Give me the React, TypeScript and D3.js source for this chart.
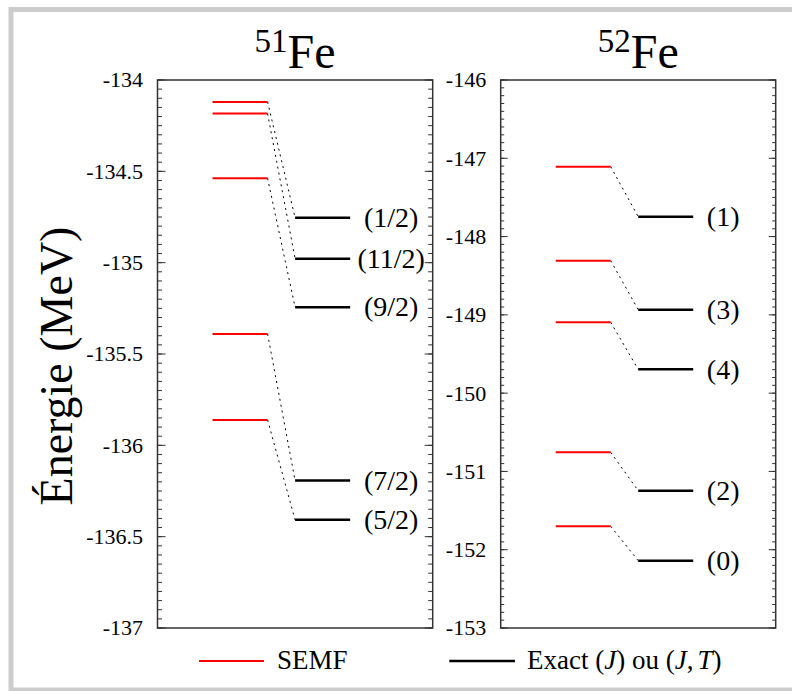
import React from "react";
import * as d3 from "d3";

const fe51Semf = [-134.12, -134.184, -134.538, -135.39, -135.861];
const fe51Exact = [-134.754, -134.978, -135.244, -136.193, -136.408];
const fe51Labels = ["(1/2)", "(11/2)", "(9/2)", "(7/2)", "(5/2)"];
const fe51Ticks = [-134, -134.5, -135, -135.5, -136, -136.5, -137];

const fe52Semf = [-147.107, -148.308, -149.095, -150.756, -151.701];
const fe52Exact = [-147.746, -148.934, -149.696, -151.246, -152.14];
const fe52Labels = ["(1)", "(3)", "(4)", "(2)", "(0)"];
const fe52Ticks = [-146, -147, -148, -149, -150, -151, -152, -153];

const SERIF = "'Liberation Serif'";
const fs = (size: number, extra: React.CSSProperties = {}): React.CSSProperties => ({
  fontFamily: SERIF,
  fontSize: size + "px",
  ...extra,
});

type PanelProps = {
  left: number;
  right: number;
  top: number;
  bottom: number;
  domain: [number, number];
  ticks: number[];
  minorStep: number;
  semf: number[];
  exact: number[];
  labels: string[];
  labelOffset: number;
  mass: string;
  majorLen: number;
  minorLen: number;
};

function Panel(p: PanelProps) {
  const y = d3.scaleLinear().domain(p.domain).range([p.bottom, p.top]);
  const x = d3.scaleLinear().domain([0, 1]).range([p.left, p.right]);
  const nMinor = Math.round((p.domain[1] - p.domain[0]) / p.minorStep);
  const minor = d3.range(nMinor + 1).map((i) => p.domain[0] + i * p.minorStep);
  const fmt = (v: number) => String(v);
  const cx = (p.left + p.right) / 2;
  return (
    <g>
      <text x={cx} y={68} textAnchor="middle" style={fs(47)} fill="#000">
        <tspan style={fs(33)} dy={-16}>{p.mass}</tspan>
        <tspan style={fs(48)} dy={16}>Fe</tspan>
      </text>
      {minor.map((v, i) => (
        <g key={"m" + i}>
          <line x1={p.left} x2={p.left + p.minorLen} y1={y(v)} y2={y(v)} stroke="#333" strokeWidth={1} />
          <line x1={p.right} x2={p.right - p.minorLen} y1={y(v)} y2={y(v)} stroke="#333" strokeWidth={1} />
        </g>
      ))}
      {p.ticks.map((v, i) => (
        <g key={"t" + i}>
          <line x1={p.left} x2={p.left + p.majorLen} y1={y(v)} y2={y(v)} stroke="#333" strokeWidth={1} />
          <line x1={p.right} x2={p.right - p.majorLen} y1={y(v)} y2={y(v)} stroke="#333" strokeWidth={1} />
          <text x={p.left - 14.5} y={y(v)} dy="0.34em" textAnchor="end" style={fs(22)} fill="#000">
            {fmt(v)}
          </text>
        </g>
      ))}
      <rect x={p.left} y={p.top} width={p.right - p.left} height={p.bottom - p.top} fill="none" stroke="#333" strokeWidth={1.5} />
      {p.semf.map((v, i) => (
        <line key={"c" + i} x1={x(0.4)} y1={y(v)} x2={x(0.5)} y2={y(p.exact[i])} stroke="#000" strokeWidth={1} strokeDasharray="2,4" />
      ))}
      {p.semf.map((v, i) => (
        <line key={"r" + i} x1={x(0.2)} x2={x(0.4)} y1={y(v)} y2={y(v)} stroke="#ff0000" strokeWidth={2} />
      ))}
      {p.exact.map((v, i) => (
        <g key={"e" + i}>
          <line x1={x(0.5)} x2={x(0.7)} y1={y(v)} y2={y(v)} stroke="#000" strokeWidth={2.5} />
          <text x={x(0.7) + p.labelOffset} y={y(v)} dy="0.33em" textAnchor="middle" style={fs(28)} fill="#000">
            {p.labels[i]}
          </text>
        </g>
      ))}
    </g>
  );
}

export default function App() {
  const W = 792;
  const H = 691;
  return (
    <svg width={W} height={H} style={{ position: "absolute", left: 0, top: 0, background: "#fff" }}>
      <rect x={0} y={0} width={W} height={H} fill="#fff" />
      <rect x={11} y={9.5} width={800} height={680.5} fill="none" stroke="#cccccc" strokeWidth={5} />
      <text transform="translate(72,366) rotate(-90)" textAnchor="middle" style={fs(46)} fill="#000">
        Énergie (MeV)
      </text>
      <Panel
        left={157.5}
        right={432.7}
        top={80}
        bottom={628}
        domain={[-137, -134]}
        ticks={fe51Ticks}
        minorStep={0.05}
        semf={fe51Semf}
        exact={fe51Exact}
        labels={fe51Labels}
        labelOffset={41}
        mass="51"
        majorLen={8}
        minorLen={4.5}
      />
      <Panel
        left={500.7}
        right={775.7}
        top={80}
        bottom={628}
        domain={[-153, -146]}
        ticks={fe52Ticks}
        minorStep={0.1}
        semf={fe52Semf}
        exact={fe52Exact}
        labels={fe52Labels}
        labelOffset={30}
        mass="52"
        majorLen={7}
        minorLen={3.5}
      />
      <line x1={199} x2={264} y1={661} y2={661} stroke="#ff0000" strokeWidth={2} />
      <text x={277} y={668.5} style={fs(27)} fill="#000">SEMF</text>
      <line x1={449.3} x2={515} y1={661} y2={661} stroke="#000" strokeWidth={2.5} />
      <text x={527} y={668.5} style={fs(27)} fill="#000">
        Exact (<tspan style={{ fontStyle: "italic" }}>J</tspan>) ou (<tspan style={{ fontStyle: "italic" }}>J</tspan>,<tspan style={{ fontStyle: "italic" }} dx={4}>T</tspan>)
      </text>
    </svg>
  );
}
